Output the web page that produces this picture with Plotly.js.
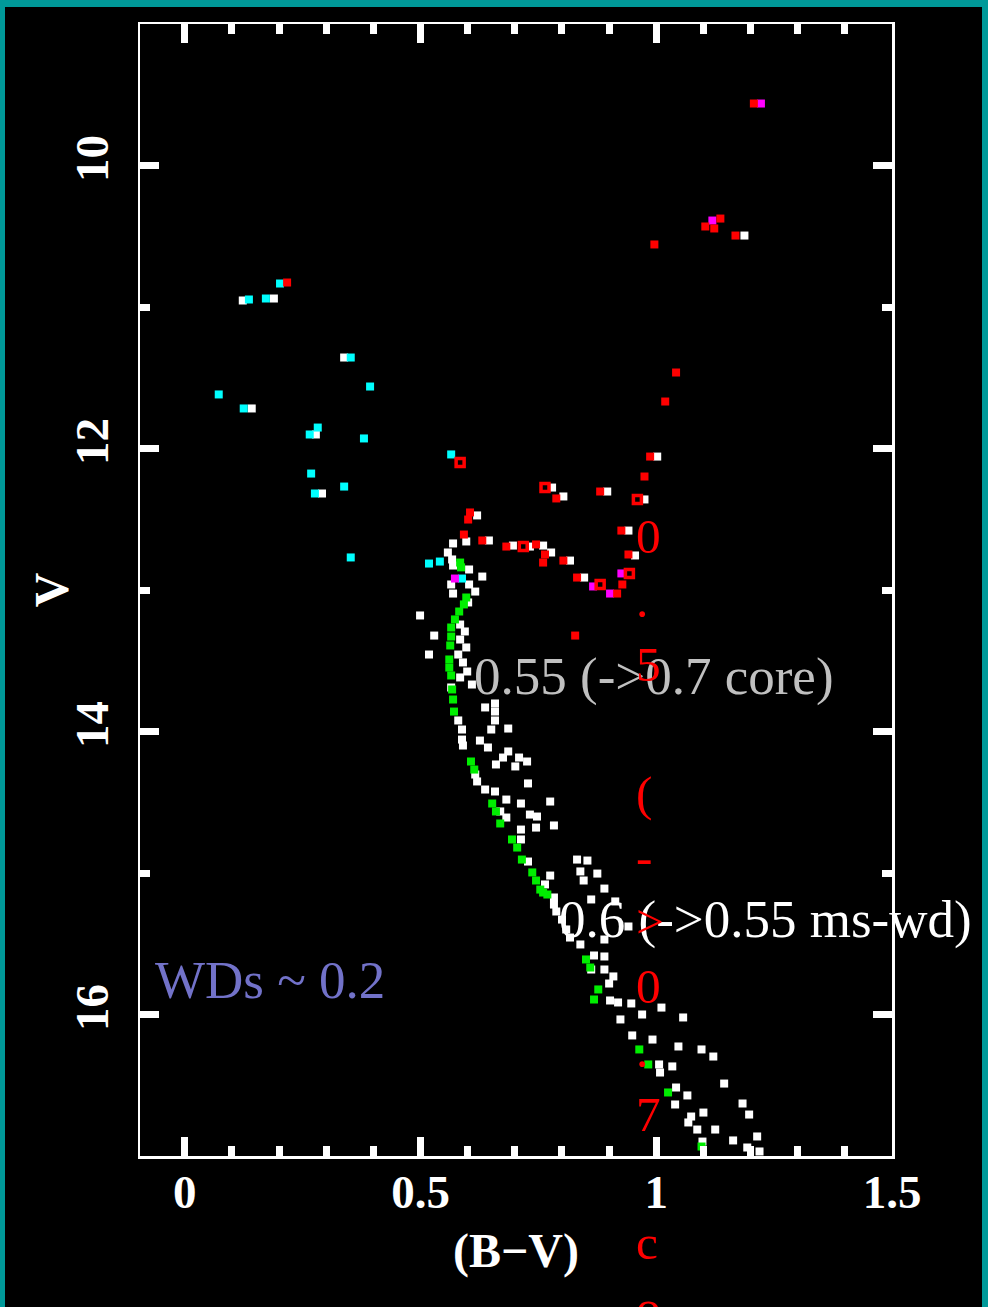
<!DOCTYPE html>
<html>
<head>
<meta charset="utf-8">
<script src="https://cdn.plot.ly/plotly-3.0.1.min.js"></script>
<style>
  html, body { margin: 0; padding: 0; background: #009999; width: 988px; height: 1307px; overflow: hidden; }
  #panel { position: absolute; left: 5px; top: 7px; width: 977px; height: 1300px; background: #000; }
  #chart { position: absolute; left: 0; top: 0; width: 988px; height: 1307px; }
</style>
</head>
<body>
<div id="panel"></div>
<div id="chart"></div>
<script>
// Colour-magnitude diagram: V against (B-V)

// Tick marks
const xTicks = [0, 0.5, 1, 1.5];
const xTickText = ['0', '0.5', '1', '1.5'];
const yTicks = [10, 12, 14, 16];
const yTickText = ['10', '12', '14', '16'];

// Field / cluster stars (white)
const whiteBV = [1.187, 1.002, 0.779, 0.803, 0.896, 0.975, 0.620, 0.941, 0.597, 0.645, 0.696, 0.732, 0.760, 0.777,
  0.817, 0.847, 0.955, 0.123, 0.189, 0.338, 0.142, 0.278, 0.291,
  0.569, 0.558, 0.567, 0.569, 0.603, 0.565, 0.603, 0.631, 0.616, 0.569, 0.601, 0.499, 0.529, 0.518,
  0.584, 0.594, 0.584, 0.597, 0.580, 0.590, 0.599, 0.584, 0.565, 0.609,
  0.637, 0.658, 0.658, 0.658, 0.580, 0.588, 0.588, 0.590, 0.650, 0.686, 0.626, 0.643, 0.686, 0.675,
  0.709, 0.726, 0.660, 0.701, 0.616, 0.620, 0.637, 0.658, 0.728, 0.682, 0.713, 0.775, 0.669, 0.682,
  0.732, 0.747, 0.713, 0.745, 0.783, 0.713, 0.728, 0.764, 0.783, 0.832, 0.854, 0.839, 0.875, 0.846,
  0.890, 0.775, 0.783, 0.788, 0.862, 0.913, 0.800, 0.809, 0.817, 0.941, 0.890, 0.839, 0.862, 0.868,
  0.890, 0.890, 0.909, 0.900, 0.902, 0.919, 0.947, 0.924, 0.970, 1.011, 1.057, 0.949, 0.992, 1.047,
  1.096, 1.121, 1.006, 1.008, 1.034, 1.144, 1.042, 1.066, 1.040, 1.183, 1.197, 1.074, 1.100, 1.068,
  1.087, 1.125, 1.163, 1.214, 1.193, 1.098, 1.219];
const whiteV = [10.495, 12.057, 12.276, 12.339, 12.304, 12.360, 12.473, 12.580, 12.657, 12.650, 12.686, 12.693, 12.686, 12.735,
  12.792, 12.912, 12.756, 10.954, 10.940, 11.357, 11.717, 11.901, 12.318,
  12.671, 12.735, 12.784, 12.827, 12.855, 12.961, 12.961, 12.905, 13.011, 13.025, 13.088, 13.180, 13.322, 13.456,
  13.244, 13.293, 13.350, 13.406, 13.456, 13.512, 13.576, 13.618, 13.689, 13.668,
  13.830, 13.802, 13.859, 13.922, 13.922, 13.986, 14.057, 14.099, 13.986, 13.979, 14.064, 14.113, 14.141, 14.184,
  14.184, 14.212, 14.233, 14.247, 14.304, 14.353, 14.410, 14.424, 14.367, 14.481, 14.509, 14.495, 14.565, 14.608,
  14.587, 14.601, 14.693, 14.679, 14.664, 14.763, 14.919, 15.081, 15.173, 14.905, 14.912, 14.989, 15.004, 15.053,
  15.110, 15.018, 15.223, 15.272, 15.187, 15.201, 15.329, 15.399, 15.456, 15.378, 15.470, 15.505, 15.682, 15.583,
  15.590, 15.682, 15.731, 15.781, 15.901, 15.915, 15.922, 16.035, 16.000, 15.951, 16.021, 16.148, 16.177, 16.226,
  16.247, 16.297, 16.353, 16.410, 16.367, 16.488, 16.516, 16.572, 16.636, 16.629, 16.707, 16.721, 16.693, 16.763,
  16.813, 16.813, 16.890, 16.862, 16.940, 16.898, 16.968];

// Main-sequence members (green)
const greenBV = [0.584, 0.586, 0.597, 0.592, 0.582, 0.573, 0.565, 0.565, 0.563, 0.561, 0.561, 0.565, 0.567, 0.569, 0.571,
  0.607, 0.614, 0.652, 0.660, 0.669, 0.694, 0.705, 0.715, 0.737, 0.745, 0.754, 0.760, 0.769,
  0.851, 0.860, 0.877, 0.868, 0.964, 0.983, 1.025, 1.096];
const greenV = [12.806, 12.840, 13.053, 13.102, 13.152, 13.208, 13.265, 13.329, 13.392, 13.491, 13.548, 13.604, 13.703, 13.774, 13.859,
  14.212, 14.269, 14.509, 14.565, 14.650, 14.763, 14.820, 14.905, 14.996, 15.053, 15.117, 15.138, 15.152,
  15.611, 15.668, 15.823, 15.894, 16.247, 16.353, 16.551, 16.933];

// Blue stragglers (cyan)
const cyanBV = [0.202, 0.136, 0.172, 0.352, 0.393, 0.072, 0.125, 0.282, 0.265, 0.380, 0.268, 0.338, 0.276, 0.352,
  0.565, 0.518, 0.541, 0.588];
const cyanV = [10.834, 10.947, 10.940, 11.357, 11.562, 11.618, 11.717, 11.852, 11.901, 11.929, 12.177, 12.269, 12.318, 12.770,
  12.042, 12.813, 12.799, 12.919];

// Magenta stars
const magentaBV = [1.222, 1.119, 0.926, 0.902, 0.866, 0.573];
const magentaV = [9.562, 10.389, 12.883, 13.025, 12.975, 12.919];

// Giants and subgiants (red, filled)
const redBV = [1.207, 1.104, 1.136, 1.123, 1.168, 0.996, 0.217, 1.042, 1.019, 0.987, 0.975, 0.788, 0.881,
  0.605, 0.601, 0.926, 0.592, 0.631, 0.682, 0.745, 0.764, 0.760, 0.803, 0.832, 0.941, 0.928, 0.917, 0.828];
const redV = [9.562, 10.431, 10.375, 10.445, 10.495, 10.558, 10.827, 11.463, 11.668, 12.057, 12.198, 12.353, 12.304,
  12.452, 12.502, 12.580, 12.608, 12.650, 12.693, 12.678, 12.749, 12.806, 12.792, 12.912, 12.749, 12.961, 13.025, 13.322];

// Giants and subgiants (red, open)
const redOpenBV = [0.584, 0.764, 0.960, 0.718, 0.943, 0.881];
const redOpenV = [12.099, 12.276, 12.360, 12.693, 12.883, 12.961];

const MS = 8;
function pts(x, y, color, symbol, lineW) {
  return {
    x: x, y: y, type: 'scatter', mode: 'markers', hoverinfo: 'skip',
    marker: { symbol: symbol || 'square', size: MS, color: color,
      line: { width: lineW || 0, color: color } }
  };
}

const data = [
  pts(whiteBV, whiteV, '#ffffff'),
  pts(greenBV, greenV, '#00ee00'),
  pts(cyanBV, cyanV, '#00ffff'),
  pts(magentaBV, magentaV, '#ff00ff'),
  pts(redBV, redV, '#ff0000'),
  pts(redOpenBV, redOpenV, '#ff0000', 'square-open', 3.5)
];

const axisFamily = 'Liberation Serif, Times New Roman, serif';
const tickFont = { family: axisFamily, size: 47, color: '#ffffff', weight: 'bold' };
const serif = 'Liberation Serif, Times New Roman, serif';

const verticalLabel = '0.5 (->0.7 core)'.split('').map(c => c === ' ' ? '\u00a0' : c).join('<br>');

const layout = {
  width: 988, height: 1307,
  margin: { l: 140, r: 96, t: 24, b: 151 },
  paper_bgcolor: 'rgba(0,0,0,0)',
  plot_bgcolor: '#000000',
  showlegend: false,
  xaxis: {
    range: [-0.095, 1.5],
    tickmode: 'array', tickvals: xTicks, ticktext: xTickText,
    ticks: 'inside', ticklen: 19, tickwidth: 7, tickcolor: '#ffffff',
    minor: { tickmode: 'linear', tick0: 0, dtick: 0.1, ticks: 'inside', ticklen: 10, tickwidth: 7, tickcolor: '#ffffff', showgrid: false },
    showline: true, linecolor: '#ffffff', linewidth: 2.5, mirror: 'allticks',
    showgrid: false, zeroline: false,
    tickfont: tickFont, ticklabelstandoff: -7,
    title: { text: '(B\u2212V)', font: { family: axisFamily, size: 48, color: '#ffffff', weight: 'bold' }, standoff: 17 }
  },
  yaxis: {
    range: [17, 9],
    tickmode: 'array', tickvals: yTicks, ticktext: yTickText,
    ticks: 'inside', ticklen: 19, tickwidth: 7, tickcolor: '#ffffff',
    minor: { tickmode: 'linear', tick0: 9, dtick: 1, ticks: 'inside', ticklen: 10, tickwidth: 7, tickcolor: '#ffffff', showgrid: false },
    showline: true, linecolor: '#ffffff', linewidth: 2.5, mirror: 'allticks',
    showgrid: false, zeroline: false,
    tickangle: -90,
    tickfont: tickFont, ticklabelstandoff: 11
  },
  annotations: [
    // y-axis title, set just outside the tick labels
    { text: 'V', x: -0.118, y: 0.5, xref: 'paper', yref: 'paper', xanchor: 'center', yanchor: 'middle',
      textangle: -90, showarrow: false,
      font: { family: axisFamily, size: 48, color: '#ffffff', weight: 'bold' } },
    { text: '0.55 (->0.7 core)', x: 0.609, y: 13.611, xref: 'x', yref: 'y', xanchor: 'left', yanchor: 'middle',
      showarrow: false, font: { family: serif, size: 53, color: '#c0c0c0' } },
    { text: '0.6 (->0.55 ms-wd)', x: 0.790, y: 15.329, xref: 'x', yref: 'y', xanchor: 'left', yanchor: 'middle',
      showarrow: false, font: { family: serif, size: 53, color: '#ffffff' } },
    { text: 'WDs ~ 0.2', x: -0.068, y: 15.753, xref: 'x', yref: 'y', xanchor: 'left', yanchor: 'middle',
      showarrow: false, font: { family: serif, size: 53, color: '#7272c9' } },
    { text: verticalLabel, x: 0.952, y: 12.410, xref: 'x', yref: 'y', xanchor: 'left', yanchor: 'top', align: 'left',
      showarrow: false, font: { family: serif, size: 49.4, color: '#ff0000' } }
  ]
};

Plotly.newPlot('chart', data, layout, { staticPlot: true, displayModeBar: false });
</script>
</body>
</html>
